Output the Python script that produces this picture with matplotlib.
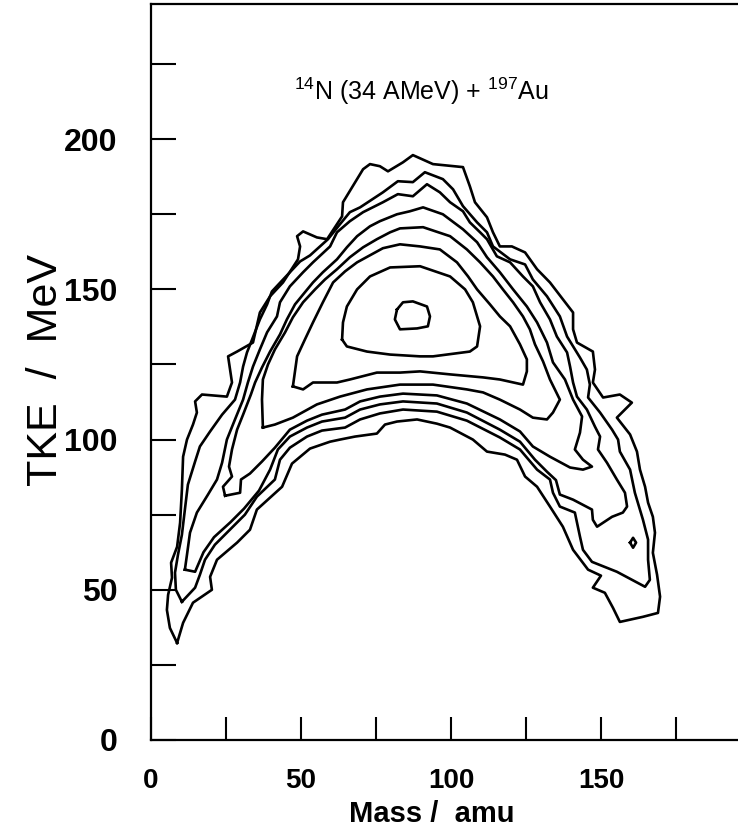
import matplotlib
matplotlib.use('Agg')
import matplotlib.pyplot as plt

plt.rcParams['font.family'] = ['Liberation Sans', 'DejaVu Sans']
plt.rcParams['mathtext.fontset'] = 'custom'
plt.rcParams['mathtext.rm'] = 'Liberation Sans'
plt.rcParams['mathtext.default'] = 'regular'

# contour lines: mass (amu) vs TKE (MeV), outermost first
c1_mass = [8.7, 6.3, 5.3, 5.7, 7.0, 6.7, 8.7, 9.7, 10.3, 10.7, 12.0, 14.0, 15.3, 14.7, 17.0, 25.3, 27.0, 25.7,
           28.7, 34.0, 36.3, 39.7, 44.0, 49.0, 49.7, 48.7, 50.7, 55.3, 58.7, 63.7, 64.0, 70.7, 73.0, 76.3,
           79.0, 84.0, 87.3, 94.0, 104.0, 106.3, 108.0, 112.0, 114.0, 116.3, 120.3, 124.7, 128.7, 133.0,
           137.3, 140.7, 140.7, 142.0, 147.3, 148.0, 147.3, 150.7, 156.3, 160.3, 155.3, 159.7, 162.0, 163.0,
           164.7, 165.7, 167.3, 168.0, 167.3, 168.7, 169.7, 169.0, 164.0, 156.3, 154.0, 151.3, 147.3, 150.0,
           145.7, 140.7, 137.3, 133.0, 128.7, 124.7, 122.0, 118.0, 112.0, 107.3, 99.7, 95.3, 88.7, 82.0,
           78.0, 75.3, 68.0, 63.0, 59.7, 53.0, 47.0, 43.7, 35.3, 33.0, 28.7, 22.0, 19.7, 20.3, 14.0, 10.7]
c1_tke = [32.3, 37.3, 43.3, 48.3, 54.0, 59.0, 64.3, 72.3, 83.3, 94.3, 100.0, 105.0, 109.0, 112.7, 115.0, 114.3,
          119.0, 127.7, 129.3, 132.3, 142.3, 147.7, 152.3, 160.0, 164.3, 167.7, 169.3, 167.3, 166.7, 174.3,
          179.0, 190.0, 191.7, 191.0, 189.3, 192.3, 194.7, 191.7, 190.7, 184.3, 179.0, 174.0, 169.0, 164.3,
          164.3, 162.3, 156.7, 152.3, 146.7, 142.3, 136.7, 132.3, 129.3, 123.3, 119.0, 114.0, 115.0, 112.3,
          107.3, 101.7, 96.0, 90.0, 84.3, 79.0, 74.3, 69.0, 62.3, 55.0, 47.7, 42.3, 41.0, 39.3, 44.0, 49.0,
          50.7, 54.7, 56.7, 63.3, 71.0, 77.7, 84.3, 87.7, 93.3, 95.0, 96.0, 100.0, 104.0, 105.3, 106.7, 106.0,
          105.0, 102.0, 101.0, 100.0, 99.3, 97.0, 92.0, 84.3, 76.7, 70.0, 65.7, 60.0, 54.3, 50.0, 45.7, 39.0]

c2_mass = [10.3, 8.3, 8.0, 9.0, 10.3, 11.3, 12.3, 14.7, 16.3, 19.7, 23.7, 28.0, 29.7, 30.7, 32.0, 33.7, 36.3,
           38.7, 40.3, 44.7, 49.7, 53.0, 59.0, 63.0, 66.3, 69.7, 77.3, 82.3, 87.3, 91.3, 97.3, 100.7, 104.0,
           108.7, 112.0, 114.0, 119.7, 124.7, 127.3, 132.0, 136.3, 138.7, 143.0, 145.3, 146.3, 145.7, 149.7,
           153.7, 155.7, 156.3, 159.7, 161.3, 164.0, 165.7, 165.7, 166.3, 164.7, 155.3, 147.0, 144.0, 143.0,
           141.3, 136.3, 134.0, 133.0, 128.7, 123.0, 116.3, 105.3, 95.3, 84.0, 76.3, 69.7, 64.7, 57.0, 52.0,
           46.3, 43.0, 41.3, 35.3, 31.3, 26.3, 21.3, 18.0, 16.3, 14.7]
c2_tke = [46.0, 50.0, 55.7, 61.7, 68.3, 76.7, 85.0, 92.7, 97.7, 102.7, 108.3, 113.3, 119.0, 124.3, 129.0, 133.3,
          140.0, 145.0, 149.3, 154.0, 159.3, 161.3, 166.7, 171.7, 175.7, 177.3, 182.3, 186.0, 185.7, 189.0,
          186.7, 183.3, 177.7, 172.3, 169.0, 164.3, 160.0, 158.3, 153.3, 147.7, 141.0, 134.3, 127.3, 123.3,
          118.3, 114.0, 109.0, 103.3, 100.0, 96.0, 90.0, 82.3, 73.3, 66.7, 60.0, 53.3, 51.0, 56.0, 59.3, 63.3,
          67.7, 75.7, 77.7, 82.3, 86.7, 90.0, 96.7, 100.7, 106.3, 109.3, 110.0, 108.7, 106.7, 104.0, 103.0,
          101.0, 97.3, 93.3, 86.7, 81.0, 75.0, 70.0, 65.0, 60.0, 55.0, 50.7]

c3_mass = [11.3, 12.0, 13.0, 15.3, 19.0, 22.0, 23.7, 25.3, 28.0, 30.7, 32.3, 34.0, 36.3, 38.7, 42.0, 43.0, 46.3,
           50.7, 54.0, 59.7, 62.0, 66.3, 70.7, 77.3, 82.3, 87.3, 92.0, 96.3, 99.7, 104.0, 106.3, 109.7, 112.0,
           115.3, 119.7, 124.0, 127.3, 129.7, 133.0, 135.3, 138.7, 139.7, 140.7, 142.0, 145.3, 148.0, 149.7,
           149.0, 152.0, 155.3, 158.0, 158.7, 157.3, 153.7, 148.7, 147.3, 147.0, 140.7, 136.3, 135.0, 132.0,
           128.0, 123.0, 116.3, 105.3, 95.3, 84.0, 76.3, 69.7, 64.7, 57.0, 52.0, 46.3, 42.3, 39.7, 36.0, 31.0,
           26.5, 21.0, 17.5, 14.7]
c3_tke = [56.7, 61.7, 69.0, 75.7, 81.7, 86.7, 92.3, 100.0, 106.7, 113.3, 119.0, 124.3, 130.0, 135.7, 141.0, 145.7,
          151.0, 155.7, 159.0, 164.3, 169.0, 172.7, 175.7, 179.0, 181.7, 181.0, 185.0, 182.3, 179.0, 176.0,
          172.3, 169.0, 166.7, 161.0, 159.0, 154.3, 151.0, 145.7, 140.0, 134.3, 129.0, 124.3, 119.0, 114.3,
          110.0, 104.3, 101.0, 96.7, 92.3, 86.7, 82.3, 77.7, 75.7, 74.3, 71.0, 73.3, 76.7, 80.0, 81.7, 86.5,
          89.3, 93.3, 99.3, 103.3, 109.0, 112.0, 112.7, 111.7, 110.0, 107.3, 106.0, 104.0, 101.0, 96.7, 90.0,
          83.0, 77.0, 72.5, 67.5, 62.5, 56.0]

c4_mass = [24.7, 24.0, 27.0, 26.0, 27.0, 28.7, 30.7, 33.3, 34.7, 37.0, 39.7, 43.0, 45.3, 48.0, 50.7, 54.0, 57.3,
           62.0, 65.3, 68.7, 73.0, 76.3, 82.0, 86.3, 90.7, 97.3, 104.0, 108.7, 112.0, 116.3, 120.7, 125.3,
           128.7, 132.0, 134.0, 138.0, 140.7, 143.7, 143.0, 141.3, 144.0, 147.0, 144.0, 139.7, 133.0, 127.3,
           123.0, 116.3, 105.3, 95.3, 84.0, 76.3, 69.7, 64.7, 57.0, 52.0, 46.3, 41.3, 37.0, 33.0, 30.0, 29.7]
c4_tke = [81.3, 84.3, 87.7, 91.0, 96.7, 103.3, 108.3, 115.0, 119.0, 124.0, 129.3, 135.0, 140.0, 145.0, 148.3,
          152.3, 155.7, 160.0, 164.0, 167.7, 171.0, 172.7, 175.0, 176.0, 177.3, 175.0, 170.0, 165.7, 160.7,
          155.7, 150.0, 144.3, 139.0, 132.3, 125.7, 120.0, 113.3, 107.7, 102.3, 96.7, 93.3, 91.0, 90.0, 90.7,
          94.3, 97.7, 102.7, 106.7, 112.0, 114.7, 115.3, 114.3, 112.7, 110.0, 108.3, 106.3, 103.3, 97.3, 92.7,
          88.7, 86.7, 82.3]

c5_mass = [37.3, 37.0, 37.3, 39.0, 41.3, 44.7, 47.3, 50.7, 54.7, 58.0, 62.0, 66.3, 70.7, 75.3, 79.7, 83.0, 90.7,
           99.7, 105.3, 109.7, 114.0, 117.3, 120.7, 124.0, 126.3, 128.0, 130.7, 133.0, 136.3, 134.0, 132.0,
           127.3, 123.0, 116.3, 110.7, 105.3, 94.0, 83.0, 72.0, 63.0, 55.3, 47.3, 41.3]
c5_tke = [104.0, 113.3, 120.0, 125.0, 130.0, 135.7, 140.7, 145.7, 150.0, 153.3, 156.7, 160.7, 164.0, 166.7, 169.0,
          170.3, 170.7, 167.7, 163.3, 159.0, 154.3, 150.0, 145.7, 141.0, 136.7, 131.7, 126.0, 120.0, 113.3,
          109.0, 106.7, 107.3, 110.0, 113.3, 115.7, 116.7, 118.3, 118.3, 116.7, 114.3, 111.7, 107.3, 105.0]

c6_mass = [47.3, 48.7, 51.3, 54.0, 57.3, 60.7, 64.7, 68.7, 77.3, 83.0, 89.7, 96.3, 102.0, 105.7, 108.7, 113.0,
           116.3, 119.7, 123.0, 125.3, 125.3, 124.0, 116.3, 110.7, 99.7, 89.7, 83.0, 75.3, 66.3, 62.0, 54.0, 50.7]
c6_tke = [117.7, 127.7, 133.3, 139.0, 145.7, 152.3, 156.0, 159.0, 163.7, 165.0, 164.3, 163.3, 159.0, 154.3, 150.0,
          145.0, 141.0, 137.7, 131.7, 126.7, 122.7, 118.3, 120.0, 120.7, 121.7, 122.7, 122.3, 122.3, 120.0,
          119.0, 119.0, 116.7]

c7_mass = [63.7, 64.0, 65.3, 68.7, 73.0, 79.7, 89.7, 99.7, 104.7, 107.3, 109.7, 108.7, 106.3, 94.0, 89.7, 79.7,
           72.0, 65.3]
c7_tke = [133.3, 139.0, 144.3, 150.0, 154.3, 157.3, 157.7, 154.3, 150.0, 145.7, 137.7, 131.0, 129.3, 127.7, 127.7,
          128.3, 129.3, 131.0]

c8_mass = [82.0, 84.0, 87.3, 92.0, 93.0, 92.3, 88.7, 83.0, 81.3]
c8_tke = [143.3, 145.7, 146.0, 144.3, 141.0, 137.7, 137.0, 136.7, 140.0]

# small island on the right branch
isl_mass = [159.7, 160.7, 161.7, 160.7]
isl_tke = [65.7, 67.3, 65.7, 64.0]

x_ticks = [0, 25, 50, 75, 100, 125, 150, 175]
x_labels = ['0', '', '50', '', '100', '', '150', '']
y_ticks = [0, 25, 50, 75, 100, 125, 150, 175, 200, 225]
y_labels = ['0', '', '50', '', '100', '', '150', '', '200', '']

lines = [(c1_mass, c1_tke), (c2_mass, c2_tke), (c3_mass, c3_tke), (c4_mass, c4_tke),
         (c5_mass, c5_tke), (c6_mass, c6_tke), (c7_mass, c7_tke), (c8_mass, c8_tke),
         (isl_mass, isl_tke)]

fig = plt.figure(figsize=(7.38, 8.32), dpi=100)
ax = fig.add_axes([0.2046, 0.1106, 0.7967, 0.8846])

for m, t in lines:
    ax.plot(m + m[:1], t + t[:1], color='black', lw=1.9, solid_joinstyle='round')

ax.set_xlim(0, 196)
ax.set_ylim(0, 245)

for side in ['left', 'bottom', 'top']:
    ax.spines[side].set_linewidth(1.6)
ax.spines['right'].set_visible(False)

ax.set_xticks(x_ticks)
ax.set_xticklabels(x_labels, fontsize=20, fontweight='bold')
ax.set_yticks(y_ticks)
ax.set_yticklabels(y_labels, fontsize=23, fontweight='bold')
ax.tick_params(axis='x', direction='in', length=16.5, width=1.5, pad=20)
ax.tick_params(axis='y', direction='in', length=18, width=1.5, pad=24)

ax.set_xlabel('Mass /  amu', fontsize=21, fontweight='bold')
ax.xaxis.set_label_coords(0.478, -0.082)
ax.set_ylabel('TKE  /  MeV', fontsize=31)
ax.yaxis.set_label_coords(-0.145, 0.503)

ax.text(90, 216, r'$^{14}$N (34 AMeV) + $^{197}$Au', fontsize=18, ha='center', va='center')

fig.savefig('out.png', dpi=100)
